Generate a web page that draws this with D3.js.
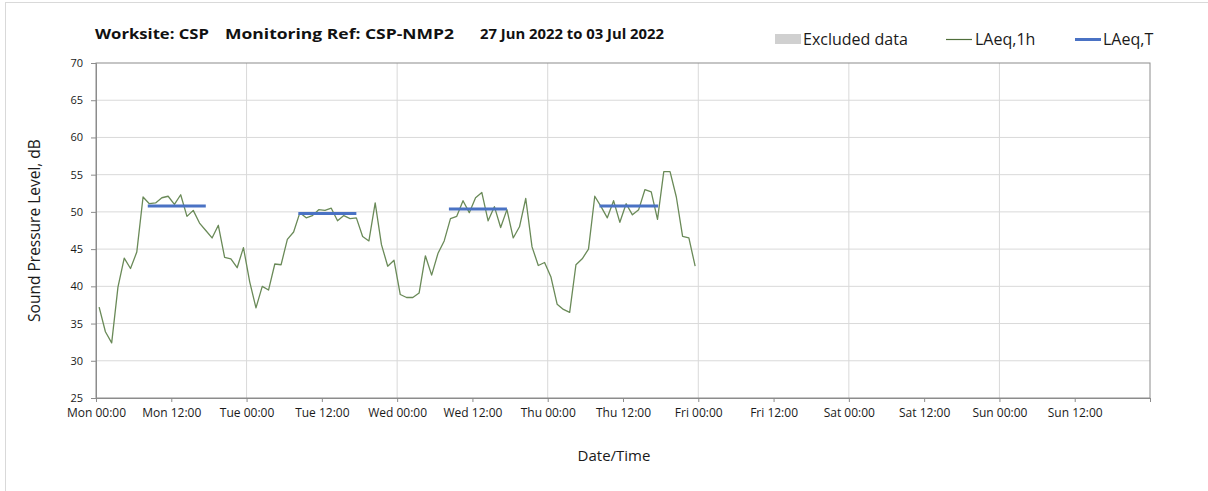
<!DOCTYPE html>
<html>
<head>
<meta charset="utf-8">
<script src="https://cdn.jsdelivr.net/npm/d3@7"></script>
<style>
  html, body { margin: 0; padding: 0; background: #ffffff; }
  svg { display: block; font-family: "Open Sans", "Noto Sans", sans-serif; }
</style>
</head>
<body>
<svg id="chart" width="1208" height="491"></svg>
<script>
// Hourly LAeq,1h readings, Mon 27 Jun 2022 00:00 onwards (one value per hour)
const hourlyLevels = [
  37.2, 33.9, 32.4, 39.9, 43.8, 42.4, 44.6, 52.0, 51.1, 51.2, 51.9, 52.1,
  51.0, 52.3, 49.4, 50.2, 48.5, 47.5, 46.5, 48.2, 43.9, 43.7, 42.5, 45.2,
  40.6, 37.1, 40.0, 39.5, 43.0, 42.9, 46.3, 47.3, 49.9, 49.2, 49.5, 50.3,
  50.2, 50.5, 48.8, 49.5, 49.1, 49.2, 46.7, 46.1, 51.2, 45.6, 42.7, 43.5,
  38.9, 38.5, 38.5, 39.1, 44.1, 41.5, 44.4, 46.1, 49.1, 49.4, 51.5, 49.9,
  51.9, 52.6, 48.8, 50.7, 47.9, 50.3, 46.5, 48.0, 51.8, 45.3, 42.8, 43.2,
  41.3, 37.6, 36.9, 36.5, 42.9, 43.7, 45.0, 52.1, 50.7, 49.2, 51.5, 48.6,
  51.1, 49.6, 50.3, 53.0, 52.7, 49.0, 55.4, 55.4, 52.0, 46.7, 46.5, 42.7
];

// LAeq,T over the daytime assessment period of each working day
const periodDays   = [0, 1, 2, 3];
const periodStart  = [8.25, 8.25, 8.25, 8.25];   // hours after midnight
const periodEnd    = [17.5, 17.5, 17.5, 17.6];
const periodLevels = [50.8, 49.8, 50.4, 50.8];

// Axis ticks
const dayNames   = ["Mon", "Tue", "Wed", "Thu", "Fri", "Sat", "Sun"];
const tickHours  = ["00:00", "12:00"];
const yTicks     = [25, 30, 35, 40, 45, 50, 55, 60, 65, 70];

const titleParts = ["Worksite: CSP", "Monitoring Ref: CSP-NMP2", "27 Jun 2022 to 03 Jul 2022"];
const legendLabels = ["Excluded data", "LAeq,1h", "LAeq,T"];

const weekStart = new Date(2022, 5, 27, 0, 0);
const weekEnd   = new Date(2022, 6, 4, 0, 0);
const HOUR = 3600 * 1000;

const svg = d3.select("#chart");
const plot = { left: 96, right: 1150, top: 63, bottom: 398 };

const x = d3.scaleTime().domain([weekStart, weekEnd]).range([plot.left, plot.right]);
const y = d3.scaleLinear().domain([25, 70]).range([plot.bottom, plot.top]);

const gridColor = "#d9d9d9";
const axisColor = "#8c8c8c";
const textColor = "#1a1a1a";

// Outer chart frame
svg.append("rect")
  .attr("x", 5.5).attr("y", 2.5)
  .attr("width", 1210).attr("height", 495)
  .attr("fill", "none").attr("stroke", "#d9d9d9");

// Tick positions every 12 hours across the week
const xTicks = d3.range(0, 14).map(i => new Date(weekStart.getTime() + i * 12 * HOUR));
const xTickLabel = d => dayNames[Math.floor((d - weekStart) / (24 * HOUR))] + " " + tickHours[((d - weekStart) / (12 * HOUR)) % 2];

// Gridlines
svg.append("g").selectAll("line.hgrid")
  .data(yTicks.filter(v => v !== 25 && v !== 70))
  .join("line")
  .attr("x1", plot.left).attr("x2", plot.right)
  .attr("y1", d => y(d)).attr("y2", d => y(d))
  .attr("stroke", gridColor).attr("stroke-width", 1);

svg.append("g").selectAll("line.vgrid")
  .data(xTicks.filter((d, i) => i > 0 && i % 2 === 0))
  .join("line")
  .attr("x1", d => x(d)).attr("x2", d => x(d))
  .attr("y1", plot.top).attr("y2", plot.bottom)
  .attr("stroke", gridColor).attr("stroke-width", 1);

// Plot frame
svg.append("rect")
  .attr("x", plot.left).attr("y", plot.top)
  .attr("width", plot.right - plot.left).attr("height", plot.bottom - plot.top)
  .attr("fill", "none").attr("stroke", axisColor).attr("stroke-width", 1);

// Axes
const xAxis = d3.axisBottom(x).tickValues(xTicks.concat([weekEnd])).tickSize(4).tickPadding(6)
  .tickFormat(d => (d >= weekEnd ? "" : xTickLabel(d)));
const gx = svg.append("g").attr("transform", `translate(0,${plot.bottom})`).call(xAxis);
gx.select(".domain").attr("stroke", axisColor);
gx.selectAll(".tick line").attr("stroke", axisColor);
gx.selectAll(".tick text").attr("fill", textColor).attr("font-size", 12)
  .attr("font-family", "'Open Sans', sans-serif");

const yAxis = d3.axisLeft(y).tickValues(yTicks).tickSize(5).tickPadding(8).tickFormat(d3.format("d"));
const gy = svg.append("g").attr("transform", `translate(${plot.left},0)`).call(yAxis);
gy.select(".domain").attr("stroke", axisColor);
gy.selectAll(".tick line").attr("stroke", axisColor);
gy.selectAll(".tick text").attr("fill", textColor).attr("font-size", 11)
  .attr("font-family", "'Open Sans', sans-serif");

// Hourly levels, plotted at the middle of each hour
const hourlyPoints = hourlyLevels.map((v, i) => ({ t: new Date(weekStart.getTime() + (i + 0.5) * HOUR), v }));
svg.append("path")
  .datum(hourlyPoints)
  .attr("fill", "none")
  .attr("stroke", "#6a8a58")
  .attr("stroke-width", 1.3)
  .attr("stroke-linejoin", "round")
  .attr("d", d3.line().x(d => x(d.t)).y(d => y(d.v)));

// Period LAeq,T segments
const periods = periodDays.map((day, i) => ({
  t0: new Date(weekStart.getTime() + (day * 24 + periodStart[i]) * HOUR),
  t1: new Date(weekStart.getTime() + (day * 24 + periodEnd[i]) * HOUR),
  v: periodLevels[i]
}));
svg.append("g").selectAll("line")
  .data(periods)
  .join("line")
  .attr("x1", d => x(d.t0)).attr("x2", d => x(d.t1))
  .attr("y1", d => y(d.v)).attr("y2", d => y(d.v))
  .attr("stroke", "#4a72c4").attr("stroke-width", 3);

// Title: three fields, each fitted to its own slot
const titleSlots = [[95, 114], [225, 229], [480, 184]];
const title = svg.append("text")
  .attr("y", 39)
  .attr("font-size", 15).attr("font-weight", "bold")
  .attr("font-family", "'Open Sans', sans-serif")
  .attr("fill", "#111");
titleParts.forEach((p, i) => {
  title.append("tspan")
    .attr("x", titleSlots[i][0])
    .attr("textLength", titleSlots[i][1])
    .attr("lengthAdjust", "spacingAndGlyphs")
    .text(p);
});

// Legend
const legend = svg.append("g").attr("font-size", 16).attr("fill", textColor)
  .attr("font-family", "'Open Sans', sans-serif");
legend.append("rect").attr("x", 775).attr("y", 34).attr("width", 26).attr("height", 10).attr("fill", "#d0d0d0");
legend.append("text").attr("x", 803).attr("y", 45).attr("fill", textColor).text(legendLabels[0]);
legend.append("line").attr("x1", 946).attr("x2", 972).attr("y1", 39.5).attr("y2", 39.5)
  .attr("stroke", "#4f6e3a").attr("stroke-width", 1.2);
legend.append("text").attr("x", 975).attr("y", 45).attr("fill", textColor).text(legendLabels[1]);
legend.append("line").attr("x1", 1075).attr("x2", 1101).attr("y1", 39.5).attr("y2", 39.5)
  .attr("stroke", "#4a72c4").attr("stroke-width", 3);
legend.append("text").attr("x", 1103).attr("y", 45).attr("fill", textColor).text(legendLabels[2]);

// Axis titles
svg.append("text")
  .attr("x", 614).attr("y", 461)
  .attr("text-anchor", "middle")
  .attr("font-size", 15).attr("fill", textColor)
  .attr("font-family", "'Open Sans', sans-serif")
  .text("Date/Time");

svg.append("text")
  .attr("transform", `translate(40,${(plot.top + plot.bottom) / 2}) rotate(-90)`)
  .attr("text-anchor", "middle")
  .attr("font-size", 15.5).attr("fill", textColor)
  .attr("font-family", "'Open Sans', sans-serif")
  .text("Sound Pressure Level, dB");
</script>
</body>
</html>
